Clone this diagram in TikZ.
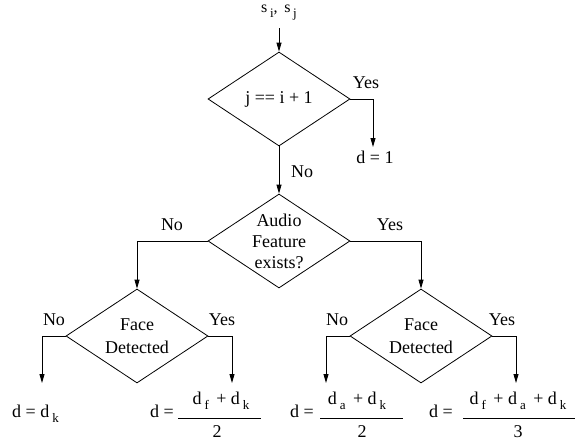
\documentclass[tikz,border=0pt]{standalone}
\usepackage{fontspec}
\setmainfont{Liberation Serif}
\usetikzlibrary{shapes.geometric,arrows.meta}
\newcommand\sbs[1]{\raisebox{-5pt}{\fontsize{13}{13}\selectfont #1}}
\newcommand\sbt[1]{\raisebox{-5pt}{\fontsize{13}{13}\selectfont #1}}
\tikzset{
  dia/.style={diamond, draw, line width=0.8pt, minimum width=142pt, minimum height=94pt, inner sep=0pt},
  arr/.style={draw, line width=0.8pt, -{Triangle[length=9pt,width=5pt]}},
  lbl/.style={font=\fontsize{18}{21}\selectfont, inner sep=0pt},
  bar/.style={line width=0.9pt},
}
\begin{document}
\begin{tikzpicture}[x=1pt,y=-1pt]
\useasboundingbox (0,0) rectangle (586,442);
% input
\node[inner sep=0pt, anchor=base, font=\fontsize{16}{18}\selectfont] (inp) at (279,12) {s\,\sbt{i}, \,s\,\sbt{j}};
\coordinate (top) at (279,28);
% diamonds
\node[dia, label={[lbl]center:j == i + 1}] (d1) at (279,99) {};
\node[dia, label={[lbl, align=center, font=\fontsize{18}{21}\selectfont]center:Audio\\Feature\\exists?}] (d2) at (279,241) {};
\node[dia, label={[lbl, align=center, font=\fontsize{18}{23}\selectfont]center:Face\\Detected}] (d3) at (137,336) {};
\node[dia, label={[lbl, align=center, font=\fontsize{18}{23}\selectfont]center:Face\\Detected}] (d4) at (421,336) {};
% arrow ends
\coordinate (e1) at (373,147);
\coordinate (e3) at (42,383);
\coordinate (e4) at (232,383);
\coordinate (e5) at (326,383);
\coordinate (e6) at (516,383);
% connectors
\draw[arr] (top) -- (d1.north);
\draw[arr] (d1.east) -| (e1);
\draw[arr] (d1.south) -- (d2.north);
\draw[arr] (d2.west) -| (d3.north);
\draw[arr] (d2.east) -| (d4.north);
\draw[arr] (d3.west) -| (e3);
\draw[arr] (d3.east) -| (e4);
\draw[arr] (d4.west) -| (e5);
\draw[arr] (d4.east) -| (e6);
% branch labels
\node[lbl, anchor=base] (y1) at (366,88) {Yes};
\node[lbl, anchor=base] (n1) at (302,177) {No};
\node[lbl, anchor=base] (n2) at (172,230) {No};
\node[lbl, anchor=base] (y2) at (390,230) {Yes};
\node[lbl, anchor=base] (n3) at (54,325) {No};
\node[lbl, anchor=base] (y3) at (222,325) {Yes};
\node[lbl, anchor=base] (n4) at (337,325) {No};
\node[lbl, anchor=base] (y4) at (502,325) {Yes};
% results
\node[lbl, anchor=base] (r1) at (375,163) {d = 1};
\node[lbl, anchor=base west] (r3) at (12,417) {d = d\,\sbs{k}};
% formula 2
\node[lbl, anchor=base east] (f2e) at (174,417) {d =};
\node[lbl, anchor=base] (f2n) at (221,404) {d\,\sbs{f} \,+ d\,\sbs{k}};
\node[lbl, anchor=base] (f2d) at (217,437) {2};
\draw[bar] (178,418) -- (261,418);
% formula 3
\node[lbl, anchor=base east] (f3e) at (314,417) {d =};
\node[lbl, anchor=base] (f3n) at (357,404) {d\,\sbs{a} \,+ d\,\sbs{k}};
\node[lbl, anchor=base] (f3d) at (362,437) {2};
\draw[bar] (320,418) -- (403,418);
% formula 4
\node[lbl, anchor=base east] (f4e) at (453,417) {d =};
\node[lbl, anchor=base] (f4n) at (518,404) {d\,\sbs{f} \,+ d\,\sbs{a} \,+ d\,\sbs{k}};
\node[lbl, anchor=base] (f4d) at (518,437) {3};
\draw[bar] (463,418) -- (575,418);
\end{tikzpicture}
\end{document}
